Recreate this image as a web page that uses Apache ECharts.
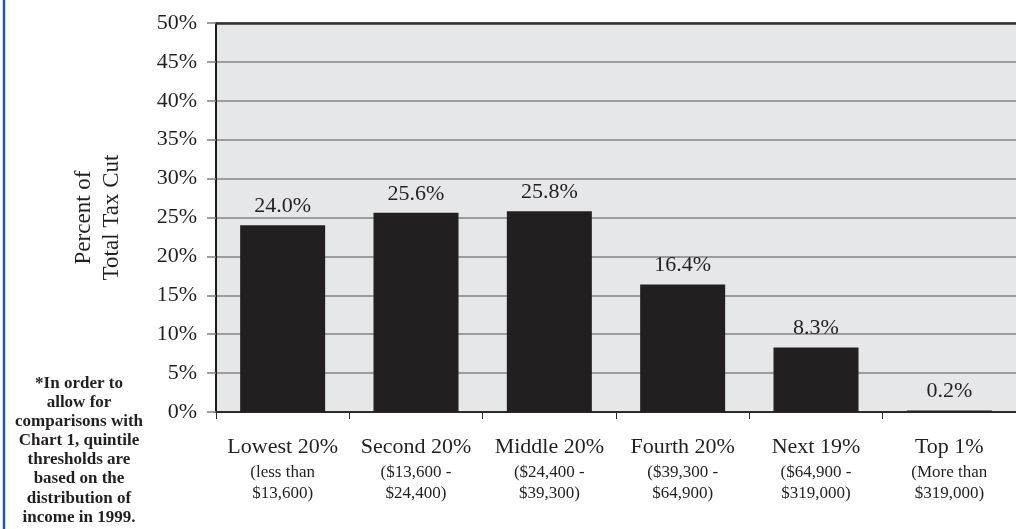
<!DOCTYPE html>
<html>
<head>
<meta charset="utf-8">
<script src="https://cdn.jsdelivr.net/npm/echarts@6/dist/echarts.min.js"></script>
<style>
  html, body { margin: 0; padding: 0; background: #ffffff; }
  #chart { width: 1016px; height: 529px; }
</style>
</head>
<body>
<div id="chart"></div>
<script>
// Income groups, their dollar ranges and each group's share of the total tax cut
const groupNames = ['Lowest 20%', 'Second 20%', 'Middle 20%', 'Fourth 20%', 'Next 19%', 'Top 1%'];
const rangeLine1 = ['(less than', '($13,600 -', '($24,400 -', '($39,300 -', '($64,900 -', '(More than'];
const rangeLine2 = ['$13,600)', '$24,400)', '$39,300)', '$64,900)', '$319,000)', '$319,000)'];
const shareOfCut = [24.0, 25.6, 25.8, 16.4, 8.3, 0.2];

const yMin = 0, yMax = 50, yStep = 5;
const axisTitle = 'Percent of\nTotal Tax Cut';
const footnoteLines = [
  '*In order to',
  'allow for',
  'comparisons with',
  'Chart 1, quintile',
  'thresholds are',
  'based on the',
  'distribution of',
  'income in 1999.'
];

const serif = '"Liberation Serif", "DejaVu Serif", serif';
const ink = '#231f20';

const chart = echarts.init(document.getElementById('chart'), null, { renderer: 'canvas' });

chart.setOption({
  backgroundColor: '#ffffff',
  animation: false,
  grid: {
    left: 216, right: -4, top: 23, bottom: 117,
    show: true,
    backgroundColor: '#e6e7e9',
    borderWidth: 0
  },
  xAxis: [
    {
      type: 'category',
      data: groupNames,
      axisLine: { lineStyle: { color: '#2b2b2b', width: 2 } },
      axisTick: { show: true, length: 7, lineStyle: { color: '#2b2b2b', width: 1 } },
      axisLabel: {
        margin: 20,
        interval: 0,
        color: ink,
        fontFamily: serif,
        formatter: (v, i) => '{a|' + v + '}\n{b|' + rangeLine1[i] + '}\n{b|' + rangeLine2[i] + '}',
        rich: {
          a: { fontSize: 22, lineHeight: 30, fontFamily: serif, color: ink },
          b: { fontSize: 17, lineHeight: 21, fontFamily: serif, color: ink }
        }
      },
      splitLine: { show: false }
    },
    {
      // frame line along the top of the plot
      type: 'category',
      position: 'top',
      data: groupNames,
      axisLine: { lineStyle: { color: '#333333', width: 2.5 } },
      axisTick: { show: false },
      axisLabel: { show: false },
      splitLine: { show: false }
    }
  ],
  yAxis: {
    type: 'value',
    min: yMin,
    max: yMax,
    interval: yStep,
    name: axisTitle,
    nameLocation: 'middle',
    nameRotate: 90,
    nameGap: 90,
    nameTextStyle: {
      fontFamily: serif,
      fontSize: 23,
      lineHeight: 28,
      color: ink,
      align: 'center'
    },
    axisLine: { show: true, lineStyle: { color: '#1a1a1a', width: 2 } },
    axisTick: { show: true, length: 9, lineStyle: { color: '#7f7f7f', width: 1.5 } },
    axisLabel: {
      margin: 19,
      color: ink,
      fontFamily: serif,
      fontSize: 22,
      formatter: '{value}%'
    },
    splitLine: { show: true, lineStyle: { color: '#858585', width: 1.5 } }
  },
  series: [
    {
      type: 'bar',
      data: shareOfCut,
      barWidth: 85,
      itemStyle: { color: ink },
      label: {
        show: true,
        position: 'top',
        distance: 8,
        color: ink,
        fontFamily: serif,
        fontSize: 22,
        formatter: p => p.value.toFixed(1) + '%'
      }
    }
  ],
  graphic: [
    {
      type: 'line',
      shape: { x1: 4, y1: 0, x2: 4, y2: 529 },
      style: { stroke: '#1f5ba8', lineWidth: 2.5 },
      z: 10
    },
    {
      type: 'text',
      x: 79,
      y: 374,
      style: {
        text: footnoteLines.join('\n'),
        align: 'center',
        verticalAlign: 'top',
        fontFamily: serif,
        fontWeight: 'bold',
        fontSize: 17,
        lineHeight: 19.1,
        fill: ink
      }
    }
  ]
});
</script>
</body>
</html>
